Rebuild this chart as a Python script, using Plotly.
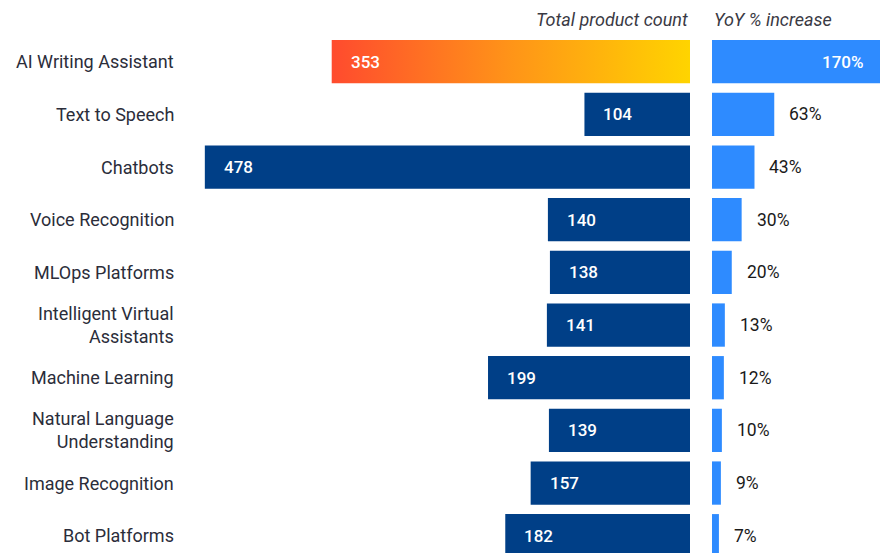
import plotly.graph_objects as go

categories = ["AI Writing Assistant", "Text to Speech", "Chatbots", "Voice Recognition",
              "MLOps Platforms", "Intelligent Virtual<br>Assistants", "Machine Learning",
              "Natural Language<br>Understanding", "Image Recognition", "Bot Platforms"]
product_count = [353, 104, 478, 140, 138, 141, 199, 139, 157, 182]
yoy_increase = [170, 63, 43, 30, 20, 13, 12, 10, 9, 7]
header_left = "Total product count"
header_right = "YoY % increase"

W, H = 880, 553
FONT = "Roboto"
DARK_BLUE = "#003f87"
LIGHT_BLUE = "#2e8bff"
BW = 0.822
ys = list(range(len(categories)))

fig = go.Figure()

# left bars (skip first, drawn as gradient)
fig.add_trace(go.Bar(
    x=product_count[1:], y=ys[1:], orientation="h", width=BW,
    marker=dict(color=DARK_BLUE, line=dict(width=0)),
    xaxis="x", yaxis="y", hoverinfo="skip", showlegend=False))

# gradient bar for the highlighted row
v0 = product_count[0]
hw = BW / 2
fig.add_trace(go.Scatter(
    x=[0, v0, v0, 0, 0], y=[ys[0] - hw, ys[0] - hw, ys[0] + hw, ys[0] + hw, ys[0] - hw],
    mode="lines", line=dict(width=0), fill="toself",
    fillgradient=dict(type="horizontal",
                      colorscale=[[0, "#ff4b2e"], [0.5, "#ff9418"], [1, "#ffd400"]]),
    xaxis="x", yaxis="y", hoverinfo="skip", showlegend=False))

# right bars
fig.add_trace(go.Bar(
    x=yoy_increase, y=ys, orientation="h", width=BW,
    marker=dict(color=LIGHT_BLUE, line=dict(width=0)),
    xaxis="x2", yaxis="y", hoverinfo="skip", showlegend=False))

ann = []
for i, (c, v, p) in enumerate(zip(categories, product_count, yoy_increase)):
    ann.append(dict(text=c, x=176 / W, xref="paper", y=i, yref="y", xanchor="right",
                    yanchor="middle", align="right", showarrow=False,
                    font=dict(family=FONT, size=18, color="#2b2d3a", weight=400)))
    ann.append(dict(text=str(v), x=v, xref="x", y=i, yref="y", xanchor="left",
                    yanchor="middle", xshift=17, showarrow=False,
                    font=dict(family=FONT, size=17, color="white", weight=500)))
    if i == 0:
        ann.append(dict(text=f"{p}%", x=p, xref="x2", y=i, yref="y", xanchor="right",
                        yanchor="middle", xshift=-14, showarrow=False,
                        font=dict(family=FONT, size=17, color="white", weight=500)))
    else:
        ann.append(dict(text=f"{p}%", x=p, xref="x2", y=i, yref="y", xanchor="left",
                        yanchor="middle", xshift=13, showarrow=False,
                        font=dict(family=FONT, size=17.5, color="#1a1a1a", weight=400)))

top_px, bot_px = 36, H
hdr_y = (bot_px - 20) / (bot_px - top_px)
ann.append(dict(text=f"<i>{header_left}</i>", x=690 / W, xref="paper", y=hdr_y, yref="paper",
                xanchor="right", yanchor="middle", showarrow=False,
                font=dict(family=FONT, size=18, color="#3a3a44")))
ann.append(dict(text=f"<i>{header_right}</i>", x=712 / W, xref="paper", y=hdr_y, yref="paper",
                xanchor="left", yanchor="middle", showarrow=False,
                font=dict(family=FONT, size=18, color="#3a3a44")))

fig.update_layout(
    width=W, height=H, margin=dict(l=0, r=0, t=top_px, b=0),
    paper_bgcolor="white", plot_bgcolor="white",
    xaxis=dict(domain=[0, 690 / W], range=[690 / 1.015, 0], visible=False, fixedrange=True),
    xaxis2=dict(domain=[712 / W, 1], range=[0, 170], visible=False, anchor="y", fixedrange=True),
    yaxis=dict(range=[9.328, -0.488], visible=False, fixedrange=True),
    annotations=ann, barmode="overlay",
)

fig.write_html("out.html", config={"displayModeBar": False},
               post_script="document.body.style.margin='0';document.body.style.overflow='hidden';")
